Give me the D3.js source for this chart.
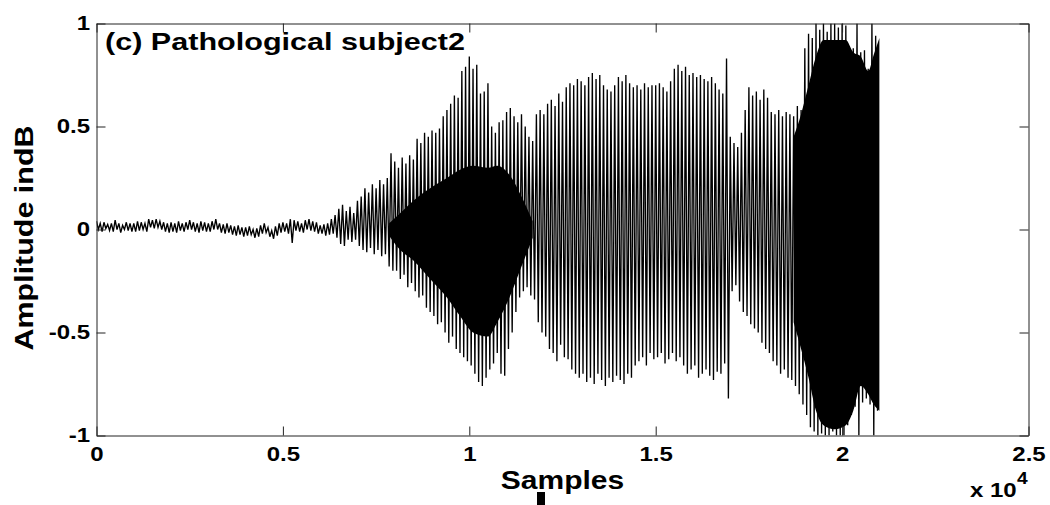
<!DOCTYPE html>
<meta charset="utf-8">
<style>
  body { margin: 0; background: #fff; }
  svg { display: block; }
  text { font-family: "Liberation Sans", Arial, sans-serif; font-weight: bold; fill: #000; }
</style>
<body>
<script src="https://cdn.jsdelivr.net/npm/d3@7"></script>
<script>
// signal: max / min of each 100-sample bin (0 .. 20900)
var peakHi = [
  0.04,0.03,0.035,0.025,0.03,0.045,0.03,0.02,0.035,0.03,
  0.03,0.04,0.035,0.03,0.05,0.045,0.05,0.04,0.035,0.03,
  0.035,0.03,0.04,0.03,0.035,0.045,0.035,0.03,0.04,0.035,
  0.03,0.04,0.05,0.03,0.025,0.03,0.02,0.015,0.02,0.01,
  0.01,0.015,0.0,0.005,0.02,0.03,0.01,-0.005,0.015,0.03,
  0.035,0.03,0.05,0.045,0.04,0.03,0.045,0.05,0.04,0.035,
  0.02,0.025,0.03,0.05,0.07,0.1,0.12,0.09,0.11,0.08,
  0.14,0.16,0.2,0.18,0.22,0.2,0.24,0.22,0.25,0.37,
  0.33,0.3,0.35,0.32,0.36,0.34,0.44,0.42,0.47,0.45,
  0.48,0.47,0.49,0.55,0.58,0.61,0.65,0.64,0.77,0.79,
  0.84,0.78,0.8,0.66,0.67,0.71,0.5,0.47,0.52,0.53,
  0.57,0.59,0.55,0.52,0.56,0.5,0.45,0.43,0.56,0.58,
  0.56,0.61,0.63,0.6,0.66,0.62,0.69,0.71,0.7,0.73,
  0.72,0.7,0.74,0.76,0.73,0.75,0.7,0.68,0.67,0.7,
  0.74,0.72,0.75,0.71,0.69,0.7,0.68,0.71,0.69,0.7,
  0.7,0.71,0.69,0.67,0.72,0.78,0.8,0.77,0.79,0.75,
  0.76,0.74,0.75,0.73,0.72,0.74,0.71,0.68,0.66,0.83,
  0.45,0.42,0.4,0.47,0.58,0.69,0.65,0.67,0.63,0.68,
  0.64,0.57,0.56,0.58,0.55,0.57,0.56,0.55,0.6,0.58,
  0.88,0.95,0.93,1.0,0.97,1.0,0.96,1.0,1.0,0.98,
  1.0,0.99,0.87,0.88,1.0,0.86,0.87,0.78,1.0,0.94
];
var peakLo = [
  0.0,-0.01,0.005,-0.005,-0.01,0.0,-0.015,0.0,-0.005,-0.01,
  -0.01,-0.005,0.0,-0.01,0.01,0.005,0.01,0.0,-0.01,-0.015,
  -0.01,-0.015,-0.005,-0.01,0.0,0.0,-0.01,-0.015,-0.005,-0.01,
  -0.01,0.0,0.0,-0.015,-0.02,-0.015,-0.025,-0.03,-0.025,-0.035,
  -0.03,-0.025,-0.04,-0.035,-0.02,-0.015,-0.035,-0.045,-0.03,-0.015,
  -0.01,-0.02,-0.065,-0.005,-0.01,-0.015,0.0,-0.005,-0.01,-0.02,
  -0.02,-0.03,-0.025,-0.02,-0.04,-0.07,-0.08,-0.05,-0.06,-0.05,
  -0.08,-0.1,-0.11,-0.09,-0.12,-0.1,-0.13,-0.12,-0.18,-0.2,
  -0.2,-0.24,-0.22,-0.28,-0.26,-0.3,-0.33,-0.32,-0.38,-0.4,
  -0.42,-0.46,-0.45,-0.5,-0.55,-0.52,-0.58,-0.6,-0.62,-0.64,
  -0.66,-0.7,-0.74,-0.76,-0.72,-0.68,-0.65,-0.6,-0.7,-0.71,
  -0.58,-0.5,-0.4,-0.33,-0.3,-0.28,-0.32,-0.34,-0.45,-0.5,
  -0.52,-0.58,-0.6,-0.64,-0.56,-0.62,-0.63,-0.68,-0.7,-0.72,
  -0.7,-0.74,-0.72,-0.75,-0.7,-0.73,-0.76,-0.72,-0.74,-0.71,
  -0.73,-0.75,-0.7,-0.72,-0.66,-0.64,-0.62,-0.66,-0.6,-0.63,
  -0.62,-0.6,-0.65,-0.63,-0.6,-0.64,-0.62,-0.66,-0.7,-0.68,
  -0.66,-0.72,-0.7,-0.68,-0.71,-0.73,-0.69,-0.7,-0.65,-0.82,
  -0.3,-0.27,-0.35,-0.4,-0.42,-0.46,-0.48,-0.5,-0.55,-0.58,
  -0.6,-0.64,-0.66,-0.7,-0.68,-0.72,-0.73,-0.76,-0.8,-0.85,
  -0.9,-0.96,-0.98,-1.0,-0.99,-1.0,-1.0,-0.98,-1.0,-1.0,
  -1.0,-0.95,-0.9,-0.86,-1.0,-0.84,-0.82,-0.85,-1.0,-0.88
];

// dense (solid black) parts of the trace
var eyeT  = [7850, 8150, 8500, 8950, 9400, 9750, 10100, 10500, 10750, 11100, 11400, 11700];
var eyeHi = [0.03, 0.08, 0.14, 0.2, 0.25, 0.29, 0.31, 0.3, 0.31, 0.26, 0.16, 0.04];
var eyeLo = [-0.03, -0.1, -0.15, -0.24, -0.33, -0.42, -0.5, -0.52, -0.45, -0.32, -0.18, -0.04];

var burstT  = [18700, 18900, 19100, 19300, 19500, 19800, 20100, 20300, 20500, 20700, 20850, 21000];
var burstHi = [0.45, 0.56, 0.7, 0.84, 0.92, 0.92, 0.92, 0.86, 0.84, 0.77, 0.85, 0.93];
var burstLo = [-0.45, -0.58, -0.72, -0.88, -0.95, -0.97, -0.95, -0.88, -0.76, -0.8, -0.85, -0.88];

var xTicks = [0, 5000, 10000, 15000, 20000, 25000];
var xTickLabels = ["0", "0.5", "1", "1.5", "2", "2.5"];
var yTicks = [-1, -0.5, 0, 0.5, 1];
var yTickLabels = ["-1", "-0.5", "0", "0.5", "1"];

var width = 1050, height = 505;
var stretch = 1.2; // the picture's lettering is wider than plain Arial

var svg = d3.select("body").append("svg")
    .attr("width", width)
    .attr("height", height);

var x = d3.scaleLinear().domain([0, 25000]).range([96.5, 1028.5]);
var y = d3.scaleLinear().domain([-1, 1]).range([435.5, 23.5]);

svg.append("clipPath").attr("id", "plot")
  .append("rect")
    .attr("x", x(0)).attr("y", y(1))
    .attr("width", x(25000) - x(0))
    .attr("height", y(-1) - y(1));

var wave = svg.append("g").attr("clip-path", "url(#plot)");

// zigzag: each bin goes up to its max, then down to its min
var binT = d3.range(0, peakHi.length * 100, 100);
var pts = [];
binT.forEach(function(t, i) {
    pts.push([t, peakHi[i]]);
    pts.push([t + 50, peakLo[i]]);
});

var area = d3.area()
    .curve(d3.curveMonotoneX)
    .x(function(d) { return x(d[0]); })
    .y0(function(d) { return y(d[2]); })
    .y1(function(d) { return y(d[1]); });

wave.append("path")
    .datum(eyeT.map(function(t, i) { return [t, eyeHi[i], eyeLo[i]]; }))
    .attr("d", area)
    .attr("fill", "#000");

wave.append("path")
    .datum(burstT.map(function(t, i) { return [t, burstHi[i], burstLo[i]]; }))
    .attr("d", area)
    .attr("fill", "#000");

wave.append("path")
    .datum(pts)
    .attr("d", d3.line()
        .x(function(d) { return x(d[0]); })
        .y(function(d) { return y(d[1]); }))
    .attr("fill", "none")
    .attr("stroke", "#000")
    .attr("stroke-width", 1.35);

function widen(sel) {
    sel.each(function() {
        var w = this.getComputedTextLength();
        d3.select(this)
            .attr("textLength", w * stretch)
            .attr("lengthAdjust", "spacingAndGlyphs");
    });
}

function styleAxis(g) {
    g.attr("font-size", 20)
     .attr("font-family", null)
     .attr("color", "#222");
    g.selectAll("text").attr("fill", "#000");
}

// axes, ticks point inwards on all four sides
var gx = svg.append("g")
    .attr("transform", "translate(0," + y(-1) + ")")
    .call(d3.axisBottom(x).tickValues(xTicks)
        .tickFormat(function(d, i) { return xTickLabels[i]; })
        .tickSizeInner(-9).tickSizeOuter(0).tickPadding(11));
styleAxis(gx);

var gy = svg.append("g")
    .attr("transform", "translate(" + x(0) + ",0)")
    .call(d3.axisLeft(y).tickValues(yTicks)
        .tickFormat(function(d, i) { return yTickLabels[i]; })
        .tickSizeInner(-9).tickSizeOuter(0).tickPadding(6.5));
styleAxis(gy);

var gt = svg.append("g")
    .attr("transform", "translate(0," + y(1) + ")")
    .call(d3.axisTop(x).tickValues(xTicks).tickFormat("")
        .tickSizeInner(-9).tickSizeOuter(0));
styleAxis(gt);

var gr = svg.append("g")
    .attr("transform", "translate(" + x(25000) + ",0)")
    .call(d3.axisRight(y).tickValues(yTicks).tickFormat("")
        .tickSizeInner(-9).tickSizeOuter(0));
styleAxis(gr);

widen(gx.selectAll("text"));
widen(gy.selectAll("text"));

// labels
svg.append("text")
    .attr("x", 105).attr("y", 50)
    .attr("font-size", 24)
    .attr("textLength", 360).attr("lengthAdjust", "spacingAndGlyphs")
    .text("(c) Pathological subject2");

svg.append("text")
    .attr("x", (x(0) + x(25000)) / 2).attr("y", 489)
    .attr("text-anchor", "middle")
    .attr("font-size", 25)
    .text("Samples")
    .call(widen);

svg.append("text")
    .attr("transform", "translate(33,238) rotate(-90)")
    .attr("text-anchor", "middle")
    .attr("font-size", 26)
    .attr("textLength", 225).attr("lengthAdjust", "spacingAndGlyphs")
    .text("Amplitude indB");

svg.append("text")
    .attr("x", 970).attr("y", 497)
    .attr("font-size", 20)
    .text("x 10")
    .call(widen);

svg.append("text")
    .attr("x", 1017).attr("y", 484)
    .attr("font-size", 16)
    .text("4")
    .call(widen);

// small stray mark under the x label
svg.append("rect")
    .attr("x", 537).attr("y", 492)
    .attr("width", 8).attr("height", 13)
    .attr("fill", "#000");
</script>
</body>
